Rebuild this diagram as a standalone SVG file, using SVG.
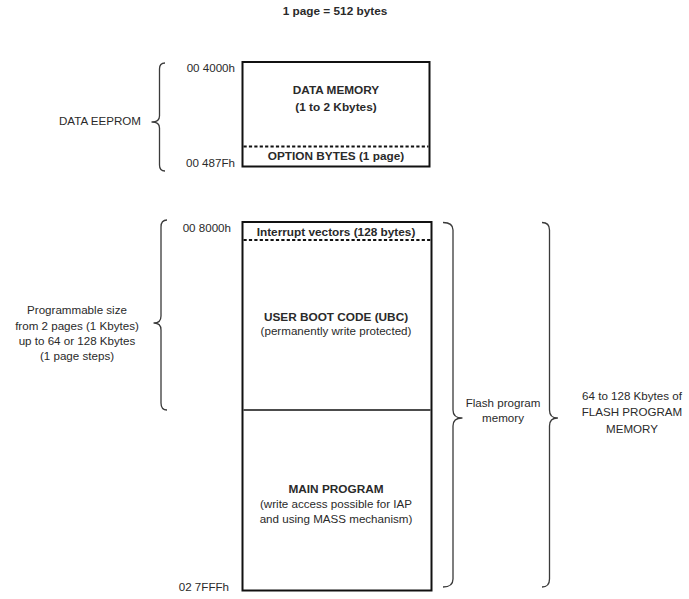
<svg xmlns="http://www.w3.org/2000/svg" width="689" height="599" viewBox="0 0 689 599">
<style>
text{font-family:"Liberation Sans",Arial,Helvetica,sans-serif;fill:#2a2a2a;font-size:11.6px}
.b{font-weight:bold;font-size:11.8px}
.m{text-anchor:middle}
.e{text-anchor:end}
.box{fill:#fff;stroke:#111;stroke-width:2}
.dash{stroke:#111;stroke-width:1.8;stroke-dasharray:3.2 2.2;fill:none}
.sep{stroke:#111;stroke-width:1.6;fill:none}
.brace{fill:none;stroke:#3a3a3a;stroke-width:1.3;stroke-linejoin:round}
</style>
<rect width="689" height="599" fill="#fff"/>
<text class="b m" x="335" y="15">1 page = 512 bytes</text>

<g id="eeprom-block">
  <rect class="box" x="242.5" y="62" width="187" height="104.5"/>
  <g id="data-memory">
    <text class="b m" x="336" y="94">DATA MEMORY</text>
    <text class="b m" x="336" y="111">(1 to 2 Kbytes)</text>
  </g>
  <line class="dash" x1="243.5" y1="146.5" x2="428.5" y2="146.5"/>
  <g id="option-bytes">
    <text class="b m" x="336" y="160">OPTION BYTES (1 page)</text>
  </g>
</g>

<g id="flash-block">
  <rect class="box" x="242.5" y="222" width="189" height="368.5"/>
  <g id="interrupt-vectors">
    <text class="b m" x="336" y="236">Interrupt vectors (128 bytes)</text>
  </g>
  <line class="dash" x1="243.5" y1="240" x2="430.5" y2="240"/>
  <g id="ubc">
    <text class="b m" x="336" y="321">USER BOOT CODE (UBC)</text>
    <text class="m" x="336" y="335">(permanently write protected)</text>
  </g>
  <line class="sep" x1="243.5" y1="410" x2="430.5" y2="410"/>
  <g id="main-program">
    <text class="b m" x="336" y="493">MAIN PROGRAM</text>
    <text class="m" x="336" y="508">(write access possible for IAP</text>
    <text class="m" x="336" y="523">and using MASS mechanism)</text>
  </g>
</g>

<g id="addresses">
  <text class="e" x="235" y="72">00 4000h</text>
  <text class="e" x="235" y="167">00 487Fh</text>
  <text class="e" x="231" y="232">00 8000h</text>
  <text class="e" x="229" y="591">02 7FFFh</text>
</g>

<g id="connectors">
  <path class="brace" d="M165,63 Q159.5,63 159.5,69 L159.5,116 Q159.5,122 152,122 Q159.5,122 159.5,128 L159.5,165 Q159.5,171 165,171"/>
  <path class="brace" d="M167,220 Q161,220 161,227 L161,316 Q161,323 154,323 Q161,323 161,330 L161,403 Q161,410 167,410"/>
  <path class="brace" d="M443,222.5 Q453,222.5 453,230 L453,410 Q453,418 462,418 Q453,418 453,426 L453,579 Q453,587 443,587"/>
  <path class="brace" d="M542,222.5 Q549.5,222.5 549.5,230 L549.5,410 Q549.5,418 557.5,418 Q549.5,418 549.5,426 L549.5,579 Q549.5,587 542,587"/>
</g>

<g id="data-eeprom-label">
  <text class="e" x="141" y="125">DATA EEPROM</text>
</g>
<g id="programmable-label">
  <text class="m" x="77" y="314">Programmable size</text>
  <text class="m" x="77" y="330">from 2 pages (1 Kbytes)</text>
  <text class="m" x="77" y="345">up to 64 or 128 Kbytes</text>
  <text class="m" x="77" y="360">(1 page steps)</text>
</g>
<g id="flash-label">
  <text class="m" x="503" y="407">Flash program</text>
  <text class="m" x="503" y="422">memory</text>
</g>
<g id="flash-total-label">
  <text class="m" x="632" y="400">64 to 128 Kbytes of</text>
  <text class="m" x="632" y="416">FLASH PROGRAM</text>
  <text class="m" x="632" y="433">MEMORY</text>
</g>
</svg>
